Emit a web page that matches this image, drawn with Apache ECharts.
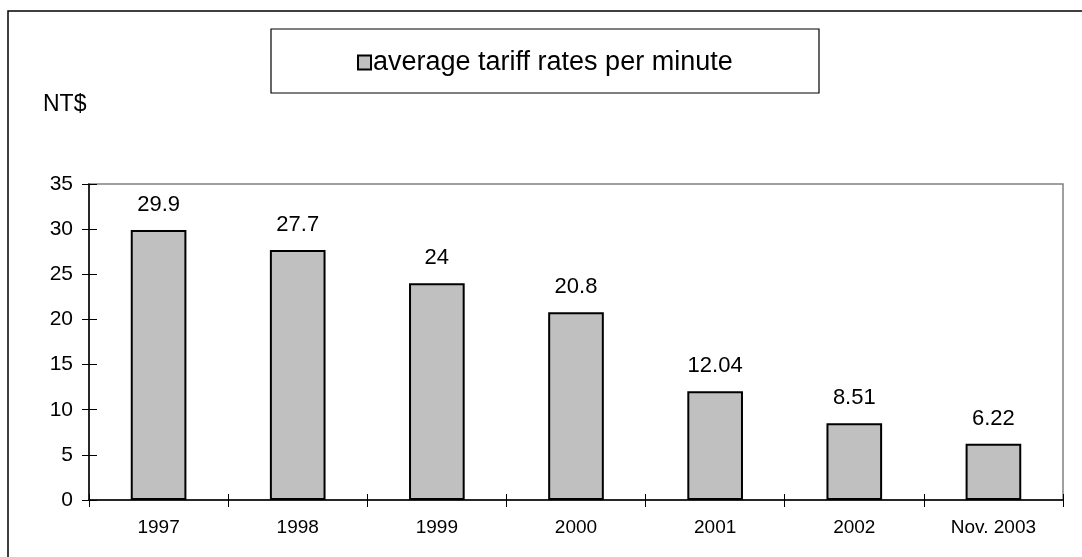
<!DOCTYPE html>
<html>
<head>
<meta charset="utf-8">
<script src="https://cdn.jsdelivr.net/npm/echarts@6/dist/echarts.min.js"></script>
<style>
  html, body { margin: 0; padding: 0; background: #fff; }
  #chart { width: 1082px; height: 557px; }
</style>
</head>
<body>
<div id="chart"></div>
<script>
// Average tariff rates per minute (NT$)
var categories = ['1997', '1998', '1999', '2000', '2001', '2002', 'Nov. 2003'];
var rates = [29.9, 27.7, 24, 20.8, 12.04, 8.51, 6.22];
var seriesName = 'average tariff rates per minute';
var unitLabel = 'NT$';

var FONT = '"Liberation Sans", Arial, sans-serif';

var chart = echarts.init(document.getElementById('chart'), null, { renderer: 'canvas' });

chart.setOption({
  backgroundColor: '#ffffff',
  animation: false,
  textStyle: { fontFamily: FONT },
  grid: {
    left: 89, right: 19, top: 184, bottom: 57,
    show: true, borderColor: '#808080', borderWidth: 1.5, backgroundColor: 'transparent'
  },
  legend: {
    data: [seriesName],
    left: 357, top: 49, padding: 0,
    itemWidth: 13, itemHeight: 14, itemGap: 4,
    icon: 'rect',
    textStyle: { fontFamily: FONT, fontSize: 27, color: '#000', padding: [0, 0, 0, -3] },
    itemStyle: { borderColor: '#000', borderWidth: 2 }
  },
  xAxis: [{
    type: 'category',
    data: categories,
    axisLine: { lineStyle: { color: '#000', width: 1.5 } },
    axisTick: { show: true, length: 7, lineStyle: { color: '#000' } },
    axisLabel: { fontFamily: FONT, fontSize: 19, color: '#000', margin: 18 }
  }, {
    type: 'category',
    data: categories,
    position: 'bottom',
    axisLine: { show: false },
    axisTick: { show: true, inside: true, length: 6, lineStyle: { color: '#000' } },
    axisLabel: { show: false }
  }],
  yAxis: [{
    type: 'value',
    min: 0, max: 35, interval: 5,
    splitLine: { show: false },
    axisLine: { show: true, lineStyle: { color: '#000', width: 1.5 } },
    axisTick: { show: true, length: 7, lineStyle: { color: '#000' } },
    axisLabel: { fontFamily: FONT, fontSize: 21, color: '#000', margin: 16 }
  }, {
    type: 'value',
    min: 0, max: 35, interval: 5,
    position: 'left',
    splitLine: { show: false },
    axisLine: { show: false },
    axisTick: { show: true, inside: true, length: 8, lineStyle: { color: '#000' } },
    axisLabel: { show: false }
  }],
  series: [{
    name: seriesName,
    type: 'bar',
    data: rates,
    barWidth: '40%',
    itemStyle: { color: '#c0c0c0', borderColor: '#000', borderWidth: 2 },
    label: {
      show: true, position: 'top', distance: 14,
      fontFamily: FONT, fontSize: 22, color: '#000'
    }
  }],
  graphic: [
    {
      type: 'rect', silent: true, z: -1,
      shape: { x: 8, y: 11, width: 1200, height: 700 },
      style: { fill: 'none', stroke: '#000', lineWidth: 1.5 }
    },
    {
      type: 'rect', silent: true, z: -1,
      shape: { x: 271, y: 29, width: 548, height: 64 },
      style: { fill: '#fff', stroke: '#000', lineWidth: 1.2 }
    },
    {
      type: 'text', silent: true,
      left: 43, top: 93,
      style: { text: unitLabel, fontFamily: FONT, fontSize: 23, fill: '#000' }
    }
  ]
});
</script>
</body>
</html>
